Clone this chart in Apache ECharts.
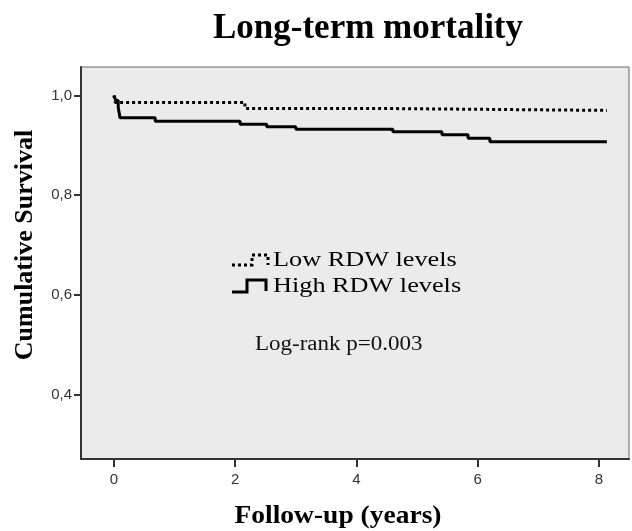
<!DOCTYPE html>
<html>
<head>
<meta charset="utf-8">
<script src="https://cdn.jsdelivr.net/npm/echarts@6/dist/echarts.min.js"></script>
<style>
  html, body { margin: 0; padding: 0; background: #fff; }
  #chart { width: 632px; height: 531px; }
</style>
</head>
<body>
<div id="chart"></div>
<script>
// Kaplan-Meier steps (years, cumulative survival)
var lowTime = [0, 0.02, 2.16, 4.22, 8.13]
var lowSurv = [1.0, 0.986, 0.974, 0.970, 0.970]
var highTime = [0, 0.03, 0.07, 0.1, 0.68, 2.08, 2.52, 3.0, 4.6, 5.41, 5.84, 6.2, 8.13]
var highSurv = [1.0, 0.99, 0.976, 0.955, 0.948, 0.942, 0.937, 0.932, 0.927, 0.921, 0.914, 0.907, 0.907]
var xTicks = [0, 2, 4, 6, 8]
var yTicks = [0.4, 0.6, 0.8, 1.0]
var seriesNames = ['Low RDW levels', 'High RDW levels']

function pairs(t, s) {
  var out = []
  for (var i = 0; i < t.length; i++) out.push([t[i], s[i]])
  return out
}

function initChart() {
  var chart = echarts.init(document.getElementById('chart'))
  var serif = 'Liberation Serif'
  chart.setOption({
    animation: false,
    backgroundColor: '#fff',
    grid: {
      left: 81,
      right: 3,
      top: 67,
      bottom: 72,
      show: true,
      backgroundColor: '#ebebeb',
      borderColor: '#666',
      borderWidth: 1
    },
    xAxis: {
      type: 'value',
      min: -0.544,
      max: 8.495,
      splitLine: { show: false },
      axisLine: { onZero: false, lineStyle: { color: '#333', width: 2 } },
      axisTick: { customValues: xTicks, length: 8, lineStyle: { color: '#333', width: 2 } },
      axisLabel: {
        customValues: xTicks,
        margin: 13,
        color: '#333',
        fontFamily: 'Liberation Sans',
        fontSize: 15
      }
    },
    yAxis: {
      type: 'value',
      min: 0.271,
      max: 1.057,
      splitLine: { show: false },
      axisLine: { show: true, onZero: false, lineStyle: { color: '#333', width: 2 } },
      axisTick: { show: true, customValues: yTicks, length: 7, lineStyle: { color: '#333', width: 2 } },
      axisLabel: {
        customValues: yTicks,
        margin: 9,
        color: '#333',
        fontFamily: 'Liberation Sans',
        fontSize: 15,
        formatter: function (v) { return v.toFixed(1).replace('.', ',') }
      }
    },
    series: [
      {
        name: seriesNames[0],
        type: 'line',
        step: 'end',
        showSymbol: false,
        data: pairs(lowTime, lowSurv),
        lineStyle: { color: '#000', width: 3, type: [3, 3], cap: 'butt' }
      },
      {
        name: seriesNames[1],
        type: 'line',
        step: 'end',
        showSymbol: false,
        data: pairs(highTime, highSurv),
        lineStyle: { color: '#000', width: 3 }
      }
    ],
    graphic: [
      {
        type: 'text', x: 368, y: 29,
        style: { text: 'Long-term mortality', font: 'bold 35px ' + serif, fill: '#000', align: 'center', verticalAlign: 'middle' }
      },
      {
        type: 'text', x: 338, y: 517, scaleX: 1.1,
        style: { text: 'Follow-up (years)', font: 'bold 25px ' + serif, fill: '#000', align: 'center', verticalAlign: 'middle' }
      },
      {
        type: 'text', x: 25, y: 245, rotation: Math.PI / 2,
        style: { text: 'Cumulative Survival', font: 'bold 26px ' + serif, fill: '#000', align: 'center', verticalAlign: 'middle' }
      },
      // legend keys
      {
        type: 'polyline',
        shape: { points: [[232, 265], [252, 265], [252, 255], [268, 255], [268, 265]] },
        style: { stroke: '#000', lineWidth: 3, fill: null, lineDash: [3, 3] }
      },
      {
        type: 'polyline',
        shape: { points: [[232, 292], [247, 292], [247, 280], [266, 280], [266, 291]] },
        style: { stroke: '#000', lineWidth: 3, fill: null }
      },
      {
        type: 'text', x: 273, y: 260, scaleX: 1.25,
        style: { text: seriesNames[0], font: '21px ' + serif, fill: '#000', align: 'left', verticalAlign: 'middle' }
      },
      {
        type: 'text', x: 273, y: 286, scaleX: 1.25,
        style: { text: seriesNames[1], font: '21px ' + serif, fill: '#000', align: 'left', verticalAlign: 'middle' }
      },
      {
        type: 'text', x: 255, y: 345, scaleX: 1.15,
        style: { text: 'Log-rank p=0.003', font: '20px ' + serif, fill: '#111', align: 'left', verticalAlign: 'middle' }
      }
    ]
  })
}

initChart()
</script>
</body>
</html>
